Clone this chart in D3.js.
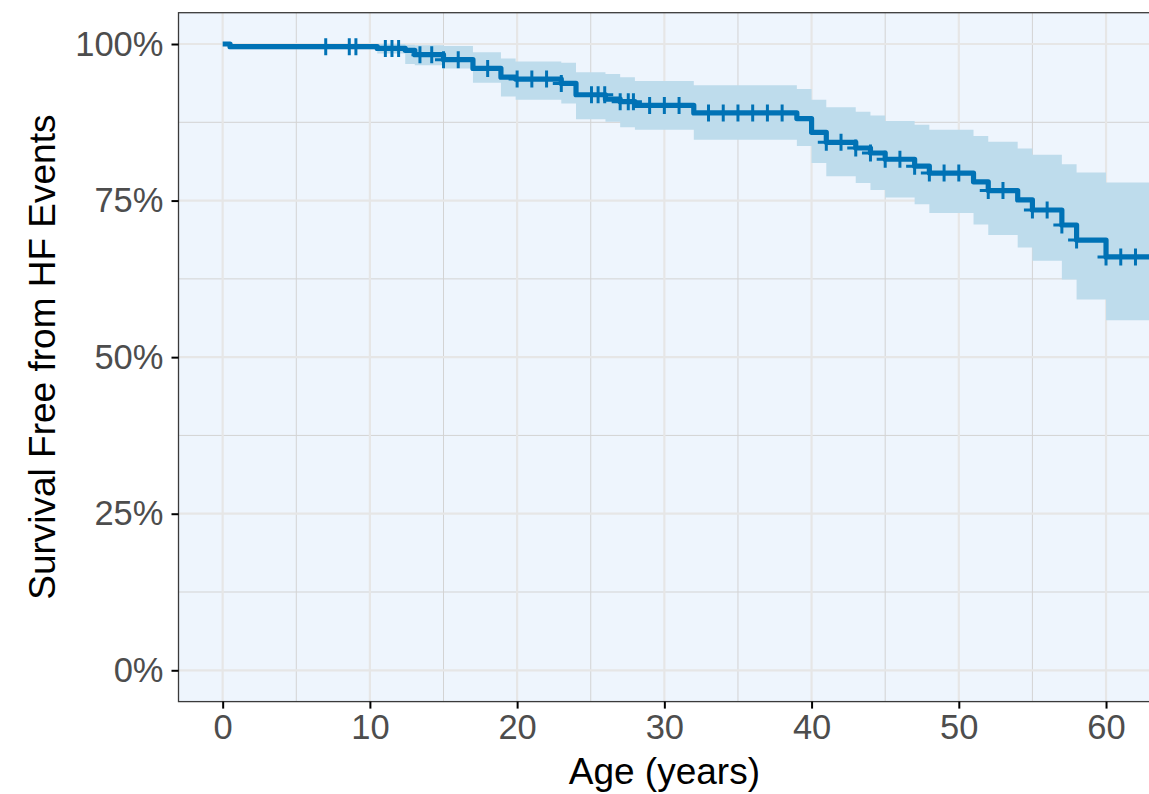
<!DOCTYPE html>
<html>
<head>
<meta charset="utf-8">
<script src="https://cdn.jsdelivr.net/npm/d3@7"></script>
<style>
  html, body { margin: 0; padding: 0; background: #ffffff; }
  svg { display: block; }
</style>
</head>
<body>
<svg id="chart" width="1149" height="794"></svg>
<script>
// ---- data ----
const stepTimes = [0, 0.5, 10.5, 12.4, 13.05, 15.0, 17.0, 18.9, 19.9, 23.0, 24.0, 26.0, 27.0, 28.0, 32.0, 39.0, 40.0, 41.0, 43.0, 44.0, 45.0, 47.0, 48.0, 51.0, 52.0, 54.0, 55.0, 57.0, 58.0, 60.0, 63.5];
const survival  = [1.000, 0.9957, 0.993, 0.990, 0.983, 0.975, 0.961, 0.947, 0.944, 0.937, 0.919, 0.912, 0.908, 0.902, 0.890, 0.881, 0.859, 0.843, 0.834, 0.826, 0.816, 0.805, 0.794, 0.780, 0.766, 0.751, 0.735, 0.711, 0.687, 0.660, 0.660];
const upperCI   = [1.000, 0.9995, 1.000, 0.999, 0.998, 0.997, 0.987, 0.977, 0.972, 0.970, 0.955, 0.952, 0.947, 0.941, 0.934, 0.928, 0.911, 0.899, 0.892, 0.886, 0.877, 0.871, 0.863, 0.853, 0.844, 0.833, 0.823, 0.808, 0.795, 0.779, 0.779];
const lowerCI   = [1.000, 0.9915, 0.985, 0.968, 0.966, 0.961, 0.938, 0.916, 0.911, 0.905, 0.880, 0.876, 0.867, 0.863, 0.847, 0.837, 0.810, 0.789, 0.778, 0.767, 0.755, 0.744, 0.730, 0.712, 0.695, 0.675, 0.654, 0.624, 0.592, 0.559, 0.559];
const censorTimes = [7, 8.6, 9.05, 11.05, 11.5, 11.95, 13.4, 14.2, 15, 16, 18, 20, 21, 22, 23, 25.05, 25.5, 25.95, 27, 27.55, 27.9, 29, 30, 31, 33, 34, 35, 36, 37, 38, 41, 42, 43, 44, 45, 46, 47, 48, 49, 50, 52, 53, 55, 56, 57, 58, 60, 61, 62];
const xTickValues = [0, 10, 20, 30, 40, 50, 60];
const xMinorValues = [5, 15, 25, 35, 45, 55];
const yTickValues = [0, 0.25, 0.5, 0.75, 1.0];
const yMinorValues = [0.125, 0.375, 0.625, 0.875];
const yTickLabels = ["0%", "25%", "50%", "75%", "100%"];
const xTitle = "Age (years)";
const yTitle = "Survival Free from HF Events";

// ---- layout ----
const panel = { left: 178.5, right: 1150.2, top: 12.7, bottom: 701.6 };
const col = {
  bg: "#eef5fd", band: "#bedcec", line: "#0072b5",
  major: "#e6e6e6", minor: "#d3d3d3", border: "#3a3a3a",
  tickText: "#4d4d4d"
};
const font = "'Liberation Sans', Arial, Helvetica, sans-serif";

const x = d3.scaleLinear().domain([-3, 63]).range([panel.left, panel.right]);
const y = d3.scaleLinear().domain([-0.05, 1.05]).range([panel.bottom, panel.top]);

const svg = d3.select("#chart");

svg.append("defs").append("clipPath").attr("id", "clip")
  .append("rect")
  .attr("x", panel.left).attr("y", panel.top)
  .attr("width", panel.right - panel.left).attr("height", panel.bottom - panel.top);

// panel background
svg.append("rect")
  .attr("x", panel.left).attr("y", panel.top)
  .attr("width", panel.right - panel.left).attr("height", panel.bottom - panel.top)
  .attr("fill", col.bg);

const grid = svg.append("g").attr("clip-path", "url(#clip)");
// minor grid
grid.selectAll(".vminor").data(xMinorValues).join("line")
  .attr("x1", d => x(d)).attr("x2", d => x(d))
  .attr("y1", panel.top).attr("y2", panel.bottom)
  .attr("stroke", col.minor).attr("stroke-width", 1);
grid.selectAll(".hminor").data(yMinorValues).join("line")
  .attr("y1", d => y(d)).attr("y2", d => y(d))
  .attr("x1", panel.left).attr("x2", panel.right)
  .attr("stroke", col.minor).attr("stroke-width", 1);
// major grid
grid.selectAll(".vmajor").data(xTickValues).join("line")
  .attr("x1", d => x(d)).attr("x2", d => x(d))
  .attr("y1", panel.top).attr("y2", panel.bottom)
  .attr("stroke", col.major).attr("stroke-width", 2.2);
grid.selectAll(".hmajor").data(yTickValues).join("line")
  .attr("y1", d => y(d)).attr("y2", d => y(d))
  .attr("x1", panel.left).attr("x2", panel.right)
  .attr("stroke", col.major).attr("stroke-width", 2.2);

// data rows
const rows = stepTimes.map((t, i) => ({ t, s: survival[i], u: upperCI[i], l: lowerCI[i] }));

const plot = svg.append("g").attr("clip-path", "url(#clip)");

// confidence band
plot.append("path")
  .datum(rows)
  .attr("d", d3.area().curve(d3.curveStepAfter)
    .x(d => x(d.t)).y0(d => y(d.l)).y1(d => y(d.u)))
  .attr("fill", col.band);

// survival line
plot.append("path")
  .datum(rows)
  .attr("d", d3.line().curve(d3.curveStepAfter).x(d => x(d.t)).y(d => y(d.s)))
  .attr("fill", "none").attr("stroke", col.line)
  .attr("stroke-width", 5.2).attr("stroke-linejoin", "round");

// censor marks (+)
function survAt(t) {
  let v = survival[0];
  for (let i = 0; i < stepTimes.length; i++) { if (stepTimes[i] <= t) v = survival[i]; }
  return v;
}
const half = 8.5;
plot.selectAll(".censor").data(censorTimes).join("path")
  .attr("d", d => {
    const cx = x(d), cy = y(survAt(d));
    return `M${cx - half},${cy}H${cx + half}M${cx},${cy - half}V${cy + half}`;
  })
  .attr("stroke", col.line).attr("stroke-width", 3).attr("fill", "none");

// panel border
svg.append("rect")
  .attr("x", panel.left).attr("y", panel.top)
  .attr("width", panel.right - panel.left).attr("height", panel.bottom - panel.top)
  .attr("fill", "none").attr("stroke", col.border).attr("stroke-width", 1.3);

// axes
const xAxis = d3.axisBottom(x).tickValues(xTickValues).tickSize(7).tickPadding(6).tickFormat(d3.format("d"));
const gx = svg.append("g").attr("transform", `translate(0,${panel.bottom})`).call(xAxis);
gx.select(".domain").remove();
gx.selectAll(".tick line").attr("stroke", "#000").attr("stroke-width", 2);
gx.selectAll(".tick text").attr("fill", col.tickText)
  .style("font-family", font).style("font-size", "34.5px");

const yAxis = d3.axisLeft(y).tickValues(yTickValues).tickSize(7).tickPadding(8)
  .tickFormat((d, i) => yTickLabels[i]);
const gy = svg.append("g").attr("transform", `translate(${panel.left},0)`).call(yAxis);
gy.select(".domain").remove();
gy.selectAll(".tick line").attr("stroke", "#000").attr("stroke-width", 2);
gy.selectAll(".tick text").attr("fill", col.tickText)
  .style("font-family", font).style("font-size", "34.5px");

// titles
svg.append("text")
  .attr("x", (panel.left + panel.right) / 2).attr("y", 784)
  .attr("text-anchor", "middle").attr("fill", "#000")
  .style("font-family", font).style("font-size", "37px")
  .text(xTitle);

svg.append("text")
  .attr("transform", `translate(55,${(panel.top + panel.bottom) / 2}) rotate(-90)`)
  .attr("text-anchor", "middle").attr("fill", "#000")
  .style("font-family", font).style("font-size", "37px")
  .text(yTitle);
</script>
</body>
</html>
